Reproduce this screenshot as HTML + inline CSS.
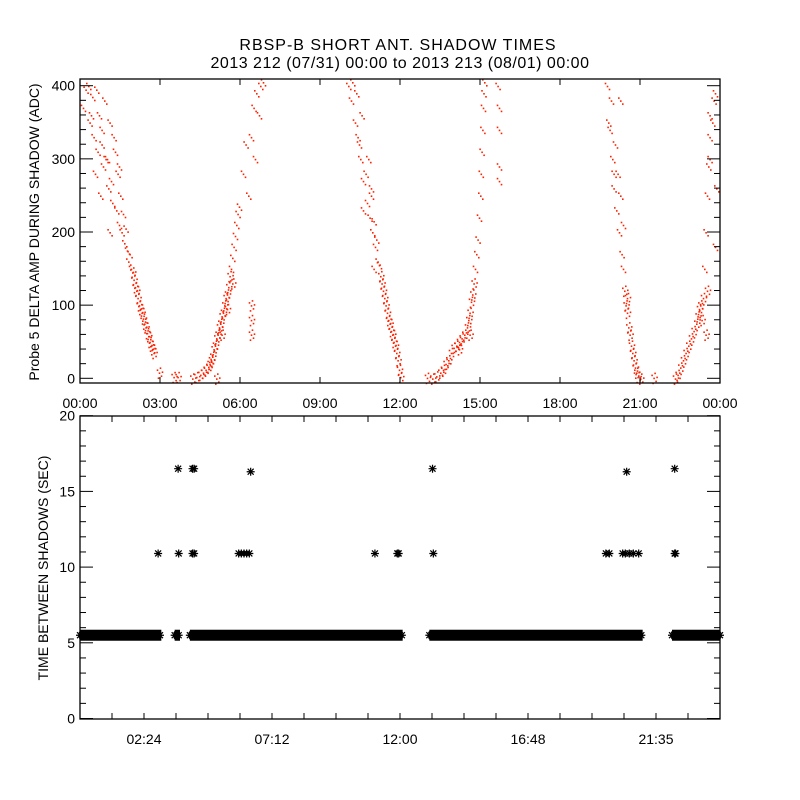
<!DOCTYPE html>
<html><head><meta charset="utf-8">
<style>
body{margin:0;background:#fff;}
svg{display:block;font-family:"Liberation Sans",sans-serif;}
</style></head>
<body>
<svg id="c" width="800" height="800" viewBox="0 0 800 800">
<rect width="800" height="800" fill="#fff"/>
<text x="398" y="50" font-size="16" letter-spacing="1" text-anchor="middle">RBSP-B SHORT ANT. SHADOW TIMES</text>
<text x="400" y="68" font-size="16" letter-spacing="0.5" text-anchor="middle">2013 212 (07/31) 00:00 to 2013 213 (08/01) 00:00</text>
<text transform="translate(39,232) rotate(-90)" font-size="14" text-anchor="middle">Probe 5 DELTA AMP DURING SHADOW (ADC)</text>
<text transform="translate(48,568) rotate(-90)" font-size="14" text-anchor="middle">TIME BETWEEN SHADOWS (SEC)</text>
<g id="topplot"></g>
<g id="botplot"></g>
</svg>
<script>
// ---- top plot data (hours, ADC) ----
const b1h=[0.1,0.2,0.3,0.35,0.45,0.5,0.6,0.65,0.7,0.8,0.85,0.9,1.0,1.05,1.1,1.15,1.2,1.3,1.35,1.4,1.45,1.5,1.55,1.6,1.65,1.7,1.75,1.8,1.85,1.9,1.95,2.0,2.05,2.1,2.15,2.2,2.25,2.3,2.35,2.4,2.45,2.5,2.55,2.6,2.65,2.7,2.75,0.55,0.75,0.95,1.1,1.25,1.45,0.4,0.8,2.95];
const b1v=[370,395,400,350,385,330,395,310,360,340,290,380,300,260,350,270,240,310,230,280,210,250,200,225,185,205,175,160,170,150,145,135,125,120,110,100,95,90,82,75,70,62,58,50,45,40,35,280,250,300,200,330,290,360,320,8];
const b2h=[4.2,4.35,4.5,4.6,4.7,4.8,4.85,4.9,4.95,5.0,5.05,5.1,5.15,5.2,5.25,5.3,5.35,5.4,5.45,5.5,5.55,5.6,5.65,5.7,5.75,5.8,5.85,5.9,5.95,5.3,5.5,5.7,6.1,6.2,6.3,6.4,6.5,6.55,6.6,6.7,6.75,6.85,6.4,6.4,6.4,3.5,3.65,5.1];
const b2v=[0,2,5,8,12,16,20,25,30,40,45,55,60,70,75,85,90,100,110,115,125,140,150,165,180,195,210,225,235,60,95,130,280,320,250,330,370,300,390,360,400,405,60,80,100,2,2,0];
const b3h=[10.05,10.15,10.2,10.3,10.35,10.4,10.5,10.55,10.6,10.7,10.75,10.8,10.85,10.9,10.95,11.0,11.05,11.1,11.15,11.2,11.25,11.3,11.35,11.4,11.45,11.5,11.55,11.6,11.65,11.7,11.75,11.8,11.85,11.9,11.95,12.0,10.6,10.9,11.0,10.45];
const b3v=[400,380,405,350,390,330,300,360,270,280,240,300,220,250,200,215,180,190,160,155,140,130,120,110,100,90,80,75,65,60,50,45,35,25,12,2,230,260,150,320];
const b4h=[13.2,13.35,13.5,13.6,13.7,13.8,13.9,14.0,14.1,14.2,14.3,14.4,14.5,14.55,14.6,14.65,14.7,14.75,14.8,14.85,14.9,14.95,15.0,15.02,15.05,15.08,15.1,15.12,15.15,15.65,15.7,15.7,15.7,15.7,13.0,14.6,14.2];
const b4v=[0,3,8,12,20,25,35,42,45,50,55,60,70,80,90,105,115,130,150,170,190,220,250,280,310,340,370,390,405,400,370,340,290,270,1,60,40];
const b5h=[19.75,19.8,19.9,19.95,20.0,20.05,20.1,20.15,20.2,20.25,20.3,20.35,20.4,20.45,20.5,20.55,20.6,20.65,20.7,20.75,20.8,20.85,20.9,21.0,19.85,20.0,20.25,20.35,20.5,21.5];
const b5v=[400,350,380,300,260,320,230,280,200,250,170,150,120,100,90,70,60,45,35,25,15,8,2,0,340,280,380,210,110,1];
const b6h=[22.3,22.4,22.5,22.6,22.7,22.8,22.9,23.0,23.1,23.15,23.2,23.25,23.3,23.35,23.4,23.45,23.5,23.55,23.6,23.7,23.75,23.45,23.5,23.6,23.6,23.8,23.8,23.85];
const b6v=[0,5,15,25,35,45,55,65,75,85,95,100,80,110,150,200,250,290,330,350,380,60,120,360,300,180,390,260];
const topTicksY=[0,100,200,300,400];
const topTicksX=["00:00","03:00","06:00","09:00","12:00","15:00","18:00","21:00","00:00"];
// ---- bottom plot data ----
const bandStart=[0.0,3.55,4.12,13.1,22.2];
const bandEnd=[3.05,3.75,12.1,21.1,24.0];
const bandVal=[5.5,5.5,5.5,5.5,5.5];
const ptH=[2.93,3.7,4.22,4.28,5.95,6.05,6.15,6.25,6.35,11.06,11.9,11.95,13.25,19.72,19.85,20.35,20.45,20.6,20.75,20.95,22.3,3.68,4.22,4.28,6.4,13.22,20.5,22.3,22.33];
const ptV=[10.9,10.9,10.9,10.9,10.9,10.9,10.9,10.9,10.9,10.9,10.9,10.9,10.9,10.9,10.9,10.9,10.9,10.9,10.9,10.9,10.9,16.5,16.5,16.5,16.3,16.5,16.3,16.5,10.9];
const botTickLabels=["02:24","07:12","12:00","16:48","21:35"];
const botTickY=[0,5,10,15,20];

const NS="http://www.w3.org/2000/svg";
function mk(tag,attrs,parent){const e=document.createElementNS(NS,tag);for(const k in attrs)e.setAttribute(k,attrs[k]);parent.appendChild(e);return e;}
const L=80,R=720;
const xs=h=>L+h*(R-L)/24;
const T0=79,T1=383;
const ysT=v=>378.3-v*0.7315;
const topG=document.getElementById('topplot');
const pts=[[b1h,b1v],[b2h,b2v],[b3h,b3v],[b4h,b4v],[b5h,b5v],[b6h,b6v]];
const offs=[[0,0],[2,3],[-2,-3],[1,-5],[-1,5],[3,-1]];
pts.forEach((p,bi)=>{
  p[0].forEach((h,i)=>{
    const x=xs(h),y=ysT(p[1][i]);
    const n=p[1][i]<150?6:3;
    for(let k=0;k<n;k++){
      const r=mk('rect',{x:(x+offs[k][0]).toFixed(1),y:(y+offs[k][1]).toFixed(1),width:1.6,height:1.6,fill:'#ff2200'},topG);
      
      
    }
  });
});
let f=mk('rect',{x:L,y:T0,width:R-L,height:T1-T0,fill:'none',stroke:'#000','stroke-width':1.3},topG);


for(let v=0;v<=400;v+=20){
  const y=ysT(v),len=v%100===0?13:6;
  mk('line',{x1:L,x2:L+len,y1:y,y2:y,stroke:'#000'},topG);
  mk('line',{x1:R,x2:R-len,y1:y,y2:y,stroke:'#000'},topG);
}
topTicksY.forEach(v=>{const t=mk('text',{x:L-5,y:ysT(v)+5,'font-size':14,'text-anchor':'end'},topG);t.textContent=v;
 
 });
topTicksX.forEach((s,i)=>{const x=xs(i*3);
 mk('line',{x1:x,x2:x,y1:T1,y2:T1-6,stroke:'#000'},topG);mk('line',{x1:x,x2:x,y1:T0,y2:T0+6,stroke:'#000'},topG);
 const t=mk('text',{x:x,y:408,'font-size':14,'text-anchor':'middle'},topG);t.textContent=s;
 
 });
const B0=416,B1=719;
const ysB=v=>718.5-v*15.14;
const botG=document.getElementById('botplot');
function star(x,y){
  return mk('path',{d:`M${x-4},${y}H${x+4}M${x},${y-4}V${y+4}M${x-3},${y-3}L${x+3},${y+3}M${x-3},${y+3}L${x+3},${y-3}`,stroke:'#000','stroke-width':1.2,fill:'none'},botG);
}
bandStart.forEach((s,i)=>{
  const x0=xs(s),x1=xs(bandEnd[i]);
  for(let x=x0;x<=x1;x+=2){const s2=star(x,ysB(bandVal[i]));
   
   }
  const r=mk('rect',{x:x0,y:ysB(bandVal[i])-5.5,width:x1-x0,height:11,fill:'#000'},botG);
  
  
});
ptH.forEach((h,i)=>{const s=star(xs(h),ysB(ptV[i]));
 
 });
f=mk('rect',{x:L,y:B0,width:R-L,height:B1-B0,fill:'none',stroke:'#000','stroke-width':1.3},botG);


for(let v=0;v<=20;v++){
  const y=ysB(v),len=v%5===0?13:6;
  mk('line',{x1:L,x2:L+len,y1:y,y2:y,stroke:'#000'},botG);
  mk('line',{x1:R,x2:R-len,y1:y,y2:y,stroke:'#000'},botG);
}
botTickY.forEach(v=>{const t=mk('text',{x:L-5,y:ysB(v)+5,'font-size':14,'text-anchor':'end'},botG);t.textContent=v;
 
 });
for(let k=1;k<20;k++){const x=L+k*32;
 mk('line',{x1:x,x2:x,y1:B1,y2:B1-6,stroke:'#000'},botG);mk('line',{x1:x,x2:x,y1:B0,y2:B0+6,stroke:'#000'},botG);}
botTickLabels.forEach((s,i)=>{const x=xs(2.4+i*4.8);
 const t=mk('text',{x:x,y:744,'font-size':14,'text-anchor':'middle'},botG);t.textContent=s;
 
 });
</script>
</body></html>
